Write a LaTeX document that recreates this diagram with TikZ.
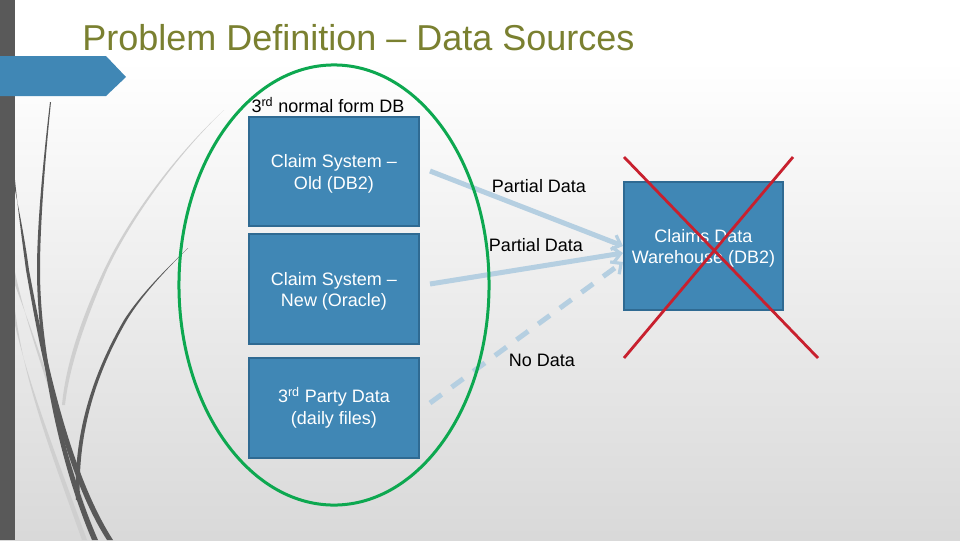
\documentclass[tikz,border=0pt]{standalone}
\usepackage{fontspec}
\setmainfont{Liberation Sans}
\usetikzlibrary{arrows.meta,shapes.geometric}
\definecolor{boxblue}{HTML}{4087B5}
\definecolor{boxline}{HTML}{2F6A92}
\definecolor{flowblue}{HTML}{B5CFE1}
\definecolor{titleolive}{HTML}{7A8030}
\definecolor{wispdark}{HTML}{595959}
\definecolor{wisplight}{HTML}{CFCFCF}
\definecolor{ringgreen}{HTML}{0DA850}
\definecolor{crossred}{HTML}{C8202E}
\newcommand{\lowline}{\rule{0pt}{12.5pt}}
\tikzset{
	source/.style={draw=boxline,line width=0.5mm,fill=boxblue,text=white,minimum width=4.25cm,align=center,font=\fontsize{12.8}{15.4}\selectfont},
	label/.style={text=black,align=center,inner sep=0pt,font=\fontsize{12.8}{15.4}\selectfont},
	flow/.style={-{Straight Barb[length=2mm,width=3.8mm,line width=0.8mm]},flowblue,line width=1.25mm},
	cross/.style={crossred,line width=0.7mm},
	wisp/.style={wispdark},
	pale/.style={wisplight},
}
\begin{document}
\begin{tikzpicture}[x=0.025cm,y=-0.025cm]
	\useasboundingbox (0,0) rectangle (960,540);
	\fill[white] (0,0) rectangle (960,60);
	\shade[top color=white,bottom color=black!15,draw=none] (0,60) rectangle (960,540);

	% wisps on the left
	\fill[pale] (224,110) .. controls (170,160) and (125,225) .. (104,270) .. controls (85,310) and (66,360) .. (62,405) -- (65,405) .. controls (70,360) and (90,310) .. (107,270) .. controls (128,225) and (172,160) .. (224,110) -- cycle;
	\fill[pale] (15,272) .. controls (25,320) and (45,375) .. (62,430) .. controls (70,465) and (80,500) .. (92,540) -- (95,540) .. controls (83,500) and (73,465) .. (65,430) .. controls (48,375) and (28,320) .. (15,285) -- cycle;
	\fill[pale] (15,310) .. controls (25,385) and (50,450) .. (82,540) -- (87,540) .. controls (54,450) and (29,385) .. (15,325) -- cycle;
	\fill[wisp] (50,102) .. controls (42,170) and (37,230) .. (37,270) .. controls (37,350) and (58,460) .. (92,540) -- (98,540) .. controls (63,460) and (40,350) .. (40,270) .. controls (40,230) and (44,170) .. (51,102) -- cycle;
	\fill[wisp] (15,180) .. controls (18,210) and (22,240) .. (26,270) .. controls (40,350) and (62,470) .. (107,540) -- (113,540) .. controls (68,470) and (44,350) .. (29,270) .. controls (25,240) and (19,210) .. (15,190) -- cycle;
	\fill[wisp] (188,248) .. controls (165,270) and (140,295) .. (124,320) .. controls (95,370) and (73,430) .. (76,500) -- (80,500) .. controls (77,430) and (98,370) .. (127,320) .. controls (142,295) and (166,270) .. (188,248) -- cycle;
	\fill[wispdark] (0,0) rectangle (15,540);
	\fill[boxblue] (0,56) -- (106,56) -- (126,77) -- (106,96) -- (0,96) -- cycle;

	\node[anchor=base west,inner sep=0pt,text=titleolive,font=\fontsize{25.6}{30}\selectfont](title) at (82,50){Problem Definition -- Data Sources};

	\node[source,minimum height=2.72cm](old) at (334,171.5){\lowline Claim System --\\Old (DB2)};
	\node[source,minimum height=2.75cm](new) at (334,289){\lowline Claim System --\\New (Oracle)};
	\node[source,minimum height=2.5cm](party) at (334,408){3\textsuperscript{rd} Party Data\\(daily files)};
	\node[source,minimum width=3.97cm,minimum height=3.2cm](warehouse) at (703.5,246){\lowline Claims Data\\Warehouse (DB2)};

	\coordinate(oldout) at (430,171);
	\coordinate(newout) at (430,284);
	\coordinate(partyout) at (430,403);
	\coordinate(wareina) at (623,246);
	\coordinate(wareinb) at (623,253);
	\coordinate(wareinc) at (623,262);
	\draw[flow](oldout)--(wareina);
	\draw[flow](newout)--(wareinb);
	\draw[flow,dash pattern=on 3.6mm off 3.1mm](partyout)--(wareinc);

	\node[draw=ringgreen,line width=0.75mm,ellipse,minimum width=7.75cm,minimum height=11cm,inner sep=0pt](ring) at (334,285){};

	\node[label](normal) at (328,105){3\textsuperscript{rd} normal form DB};
	\node[label](parta) at (539,186){Partial Data};
	\node[label](partb) at (536,245){Partial Data};
	\node[label](nodata) at (542,360){No Data};

	\coordinate(crossa) at (624,157);
	\coordinate(crossb) at (818,358);
	\coordinate(crossc) at (793,157);
	\coordinate(crossd) at (624,358);
	\draw[cross](crossa)--(crossb);
	\draw[cross](crossc)--(crossd);
\end{tikzpicture}
\end{document}
